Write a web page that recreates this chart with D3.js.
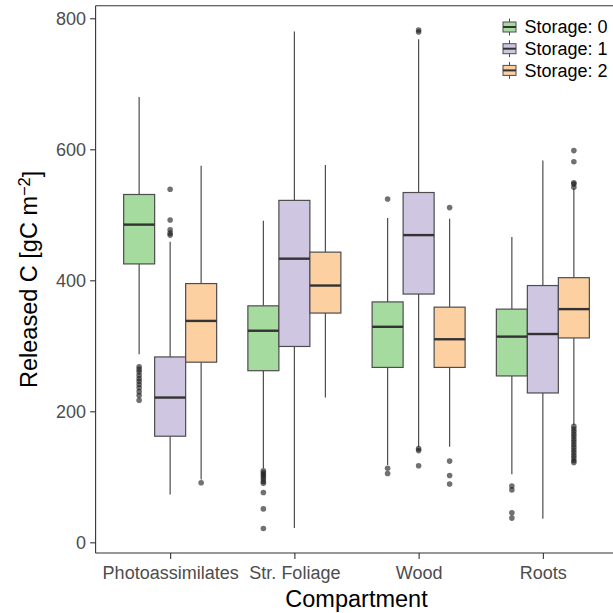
<!DOCTYPE html>
<html>
<head>
<meta charset="utf-8">
<script src="https://cdn.jsdelivr.net/npm/d3@7"></script>
<style>
  html, body { margin: 0; padding: 0; background: #fff; }
  svg { display: block; font-family: "Liberation Sans", Arial, sans-serif; }
</style>
</head>
<body>
<svg id="chart" width="613" height="613"></svg>
<script>
// ---- Data ----
const categories = ["Photoassimilates", "Str. Foliage", "Wood", "Roots"];
const series = ["Storage: 0", "Storage: 1", "Storage: 2"];
const yTicks = [0, 200, 400, 600, 800];

// [category][series]
const lowerWhisker = [[287, 73, 96], [113, 22, 221], [118, 146, 146], [104, 36, 179]];
const q1           = [[425, 162, 275], [262, 299, 350], [267, 379, 267], [254, 228, 312]];
const median       = [[485, 221, 338], [323, 433, 392], [329, 469, 310], [314, 318, 356]];
const q3           = [[531, 283, 395], [361, 522, 443], [367, 534, 359], [356, 392, 404]];
const upperWhisker = [[680, 459, 575], [491, 780, 576], [495, 768, 494], [466, 583, 540]];
const outliers = [
  [[268, 264, 260, 255, 250, 246, 241, 236, 230, 224, 217], [539, 492, 477, 472, 469], [91]],
  [[109, 106, 103, 100, 97, 93, 90, 76, 51, 21], [], []],
  [[524, 113, 105], [782, 779, 143, 140, 117], [511, 124, 102, 89]],
  [[86, 80, 45, 37], [], [598, 581, 549, 547, 542, 177, 173, 169, 165, 161, 157, 153, 149, 145, 141, 137, 133, 129, 125, 122]]
];

// ---- Styles ----
const fills = ["#a6dba0", "#cfc6e1", "#fdd0a2"];
const panel = { left: 95.6, right: 617.4, top: 5.7, bottom: 553 };

const svg = d3.select("#chart");

const x = d3.scalePoint().domain(categories).range([panel.left, panel.right]).padding(0.6);
const dodge = d3.scaleBand().domain(series).range([-46.5, 46.5]);
const y = d3.scaleLinear().domain([-16.3, 819.2]).range([panel.bottom, panel.top]);

// build records
const records = [];
categories.forEach((c, i) => {
  series.forEach((s, j) => {
    records.push({
      cat: c, ser: s, j,
      lw: lowerWhisker[i][j], q1: q1[i][j], med: median[i][j], q3: q3[i][j], uw: upperWhisker[i][j],
      out: outliers[i][j]
    });
  });
});

const g = svg.append("g");
const bw = dodge.bandwidth();
const cx = d => x(d.cat) + dodge(d.ser) + bw / 2;

// whiskers
g.selectAll("line.wu").data(records).join("line")
  .attr("x1", cx).attr("x2", cx)
  .attr("y1", d => y(d.q3)).attr("y2", d => y(d.uw))
  .attr("stroke", "#4d4d4d").attr("stroke-width", 1.2);
g.selectAll("line.wl").data(records).join("line")
  .attr("x1", cx).attr("x2", cx)
  .attr("y1", d => y(d.q1)).attr("y2", d => y(d.lw))
  .attr("stroke", "#4d4d4d").attr("stroke-width", 1.2);

// boxes
g.selectAll("rect.box").data(records).join("rect")
  .attr("x", d => x(d.cat) + dodge(d.ser))
  .attr("width", bw)
  .attr("y", d => y(d.q3))
  .attr("height", d => y(d.q1) - y(d.q3))
  .attr("fill", d => fills[d.j])
  .attr("stroke", "#4d4d4d").attr("stroke-width", 1.2);

// medians
g.selectAll("line.med").data(records).join("line")
  .attr("x1", d => x(d.cat) + dodge(d.ser)).attr("x2", d => x(d.cat) + dodge(d.ser) + bw)
  .attr("y1", d => y(d.med)).attr("y2", d => y(d.med))
  .attr("stroke", "#333333").attr("stroke-width", 2.4);

// outliers
const pts = [];
records.forEach(r => r.out.forEach(v => pts.push({ cx: cx(r), v })));
g.selectAll("circle.out").data(pts).join("circle")
  .attr("cx", d => d.cx).attr("cy", d => y(d.v)).attr("r", 2.8)
  .attr("fill", "#1a1a1a").attr("fill-opacity", 0.62);

// ---- Axes ----
const axisColor = "#333333";
svg.append("line").attr("x1", panel.left).attr("x2", panel.right)
  .attr("y1", panel.top).attr("y2", panel.top).attr("stroke", axisColor).attr("stroke-width", 1.1);

const yAxis = svg.append("g").attr("transform", `translate(${panel.left},0)`)
  .call(d3.axisLeft(y).tickValues(yTicks).tickSize(5.5).tickPadding(4).tickSizeOuter(0));
yAxis.select(".domain").attr("d", `M0,${panel.top}V${panel.bottom}`).attr("stroke", axisColor).attr("stroke-width", 1.1);
yAxis.selectAll(".tick line").attr("stroke", axisColor).attr("stroke-width", 1.1);
yAxis.selectAll(".tick text").attr("fill", "#4d4d4d").attr("font-size", 18).attr("font-family", "Liberation Sans, Arial, sans-serif").attr("dy", "0.36em");

const xAxis = svg.append("g").attr("transform", `translate(0,${panel.bottom})`)
  .call(d3.axisBottom(x).tickSize(6).tickPadding(7).tickSizeOuter(0));
xAxis.select(".domain").attr("d", `M${panel.left},0H${panel.right}`).attr("stroke", axisColor).attr("stroke-width", 1.1);
xAxis.selectAll(".tick line").attr("stroke", axisColor).attr("stroke-width", 1.1);
xAxis.selectAll(".tick text").attr("fill", "#4d4d4d").attr("font-size", 18).attr("font-family", "Liberation Sans, Arial, sans-serif");

// axis titles
svg.append("text").attr("x", (panel.left + panel.right) / 2).attr("y", 607)
  .attr("text-anchor", "middle").attr("font-size", 23.5).attr("fill", "#000").text("Compartment");

const yt = svg.append("text")
  .attr("transform", `translate(37,${(panel.top + panel.bottom) / 2}) rotate(-90)`)
  .attr("text-anchor", "middle").attr("font-size", 23.5).attr("fill", "#000");
yt.append("tspan").text("Released C [gC m");
yt.append("tspan").attr("dy", "-0.45em").attr("font-size", 16.5).text("\u22122");
yt.append("tspan").attr("dy", "0.45em").text("]");

// ---- Legend ----
const legend = svg.append("g").attr("transform", "translate(502.5,18.5)");
const rowH = 21.7;
series.forEach((s, j) => {
  const lg = legend.append("g").attr("transform", `translate(0,${j * rowH})`);
  lg.append("line").attr("x1", 7).attr("x2", 7).attr("y1", 0).attr("y2", 17)
    .attr("stroke", "#4d4d4d").attr("stroke-width", 1);
  lg.append("rect").attr("x", 0.5).attr("y", 3.5).attr("width", 13).attr("height", 10)
    .attr("fill", fills[j]).attr("stroke", "#4d4d4d").attr("stroke-width", 1);
  lg.append("line").attr("x1", 0.5).attr("x2", 13.5).attr("y1", 8.5).attr("y2", 8.5)
    .attr("stroke", "#333").attr("stroke-width", 2);
  lg.append("text").attr("x", 22).attr("y", 8.5).attr("dy", "0.36em")
    .attr("font-size", 18).attr("fill", "#000").text(s);
});
</script>
</body>
</html>
